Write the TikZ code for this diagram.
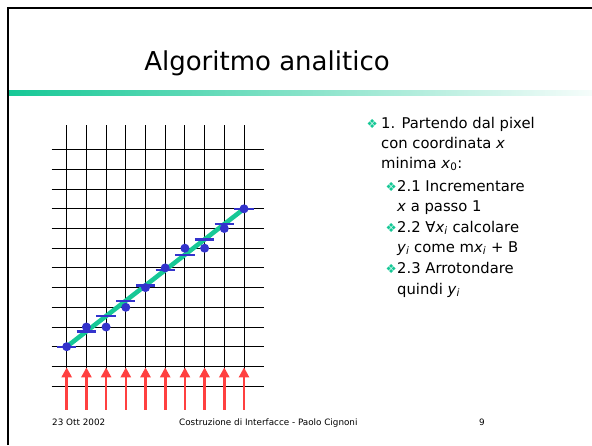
\documentclass[tikz,border=0pt]{standalone}
\usepackage{fontspec}
\setmainfont{DejaVu Sans}
\usetikzlibrary{arrows.meta}
\definecolor{tealg}{RGB}{22,200,150}
\definecolor{dotblue}{RGB}{51,51,204}
\definecolor{arrowred}{RGB}{255,64,64}
\newcommand\bulsym{{\color{tealg}\fontsize{12.5}{12.5}\selectfont ❖}}
\tikzset{
  body/.style={anchor=base west, inner sep=0pt, font=\fontsize{14.8}{18}\selectfont},
  foot/.style={anchor=base west, inner sep=0pt, font=\fontsize{8.8}{10}\selectfont},
  gridline/.style={black, line width=0.9pt},
  redarrow/.style={draw=arrowred, line width=2.6pt, -{Triangle[width=10pt,length=10pt]}},
  pixdot/.style={circle, fill=dotblue, inner sep=0pt, minimum size=9pt},
  exactbar/.style={draw=dotblue, line width=2.3pt},
  realline/.style={draw=tealg, line width=4.6pt},
  frameline/.style={black, line width=2.5pt},
}
\begin{document}
\begin{tikzpicture}[x=1pt,y=-1pt]
\useasboundingbox (0,0) rectangle (592,445);
% frame
\draw[frameline] (8,445) -- (8,8) -- (592,8);
% title
\node[anchor=base, inner sep=0pt, font=\fontsize{26}{30}\selectfont] (title) at (267,70) {Algoritmo analitico};
\shade[left color=tealg, right color=tealg!4] (9,90.5) rectangle (592,95.5);
% grid scene
\begin{scope}[shift={(66.7pt,-346.7pt)}, x=19.7pt, y=19.7pt]
  \foreach \k in {-2,...,10} \draw[gridline] (-0.76,\k) -- (10.02,\k);
  \foreach \j in {0,...,9} \draw[gridline] (\j,-2) -- (\j,11.25);
  \foreach \j in {0,...,9} \draw[redarrow] (\j,-3.21) -- (\j,-1.05);
  \draw[realline] (0,0) -- (9,7);
  \foreach \j in {0,...,9} \draw[exactbar] ({\j-0.49},{7*\j/9}) -- ({\j+0.49},{7*\j/9});
  \foreach \j/\d in {0/0,1/1,2/1,3/2,4/3,5/4,6/5,7/5,8/6,9/7}
    \node[pixdot] (p\j) at (\j,\d) {};
\end{scope}
% text
\node[body, anchor=base east] (b1) at (378,128) {\bulsym};
\node[body] (t1) at (381,128) {1. Partendo dal pixel};
\node[body] (t2) at (381,148) {con coordinata \textit{x}};
\node[body] (t3) at (381,168) {minima \textit{x}\textsubscript{0}:};
\node[body, anchor=base east] (b2) at (397,191) {\bulsym};
\node[body] (t4) at (397,191) {2.1 Incrementare};
\node[body] (t5) at (397,211) {\textit{x} a passo 1};
\node[body, anchor=base east] (b3) at (397,232) {\bulsym};
\node[body] (t6) at (397,232) {2.2 ∀\textit{x}\textsubscript{\textit{i}} calcolare};
\node[body] (t7) at (397,252) {\textit{y}\textsubscript{\textit{i}} come m\textit{x}\textsubscript{\textit{i}} + B};
\node[body, anchor=base east] (b4) at (397,273) {\bulsym};
\node[body] (t8) at (397,273) {2.3 Arrotondare};
\node[body] (t9) at (397,294) {quindi \textit{y}\textsubscript{\textit{i}}};
% footer
\node[foot] (f1) at (52,425) {23 Ott 2002};
\node[foot] (f2) at (179,425) {Costruzione di Interfacce - Paolo Cignoni};
\node[foot] (f3) at (479,425) {9};
\end{tikzpicture}
\end{document}
